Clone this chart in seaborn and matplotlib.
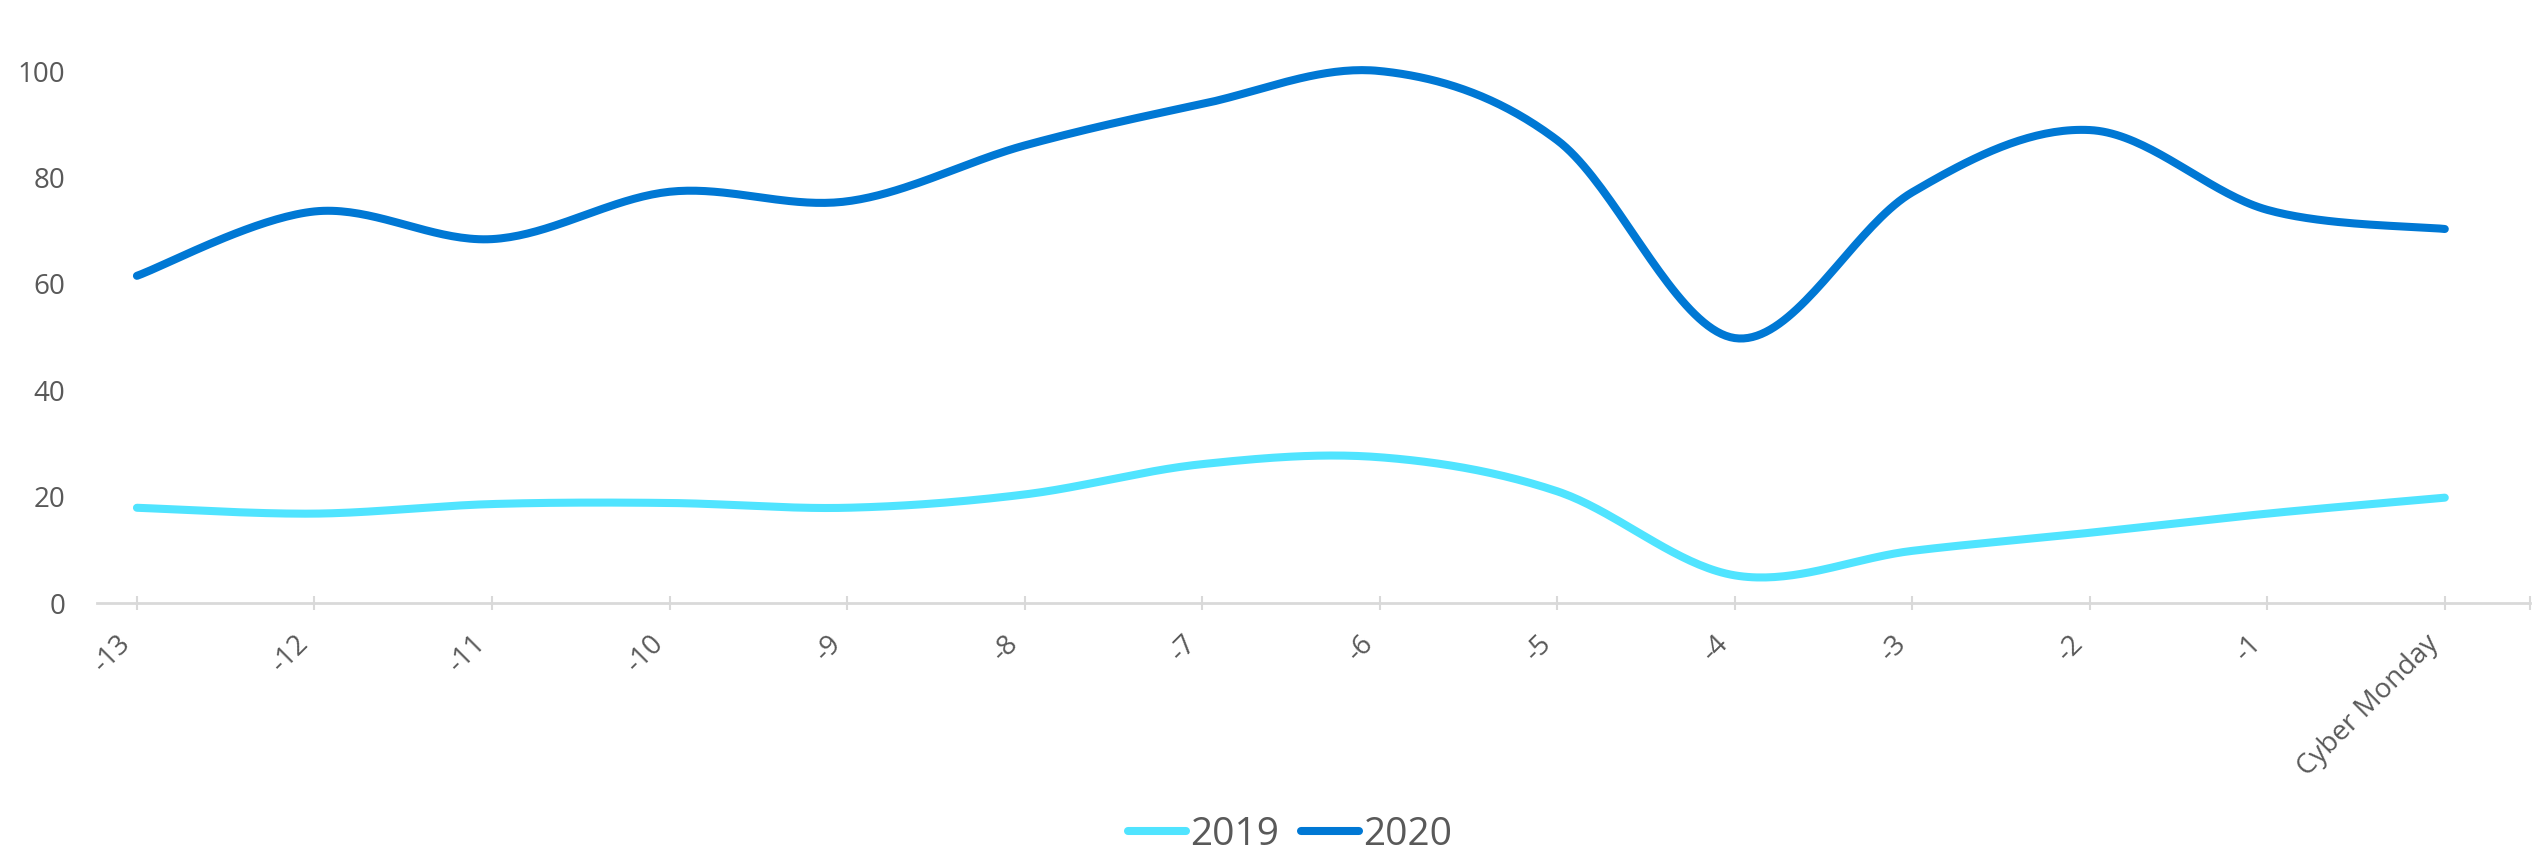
import numpy as np
import pandas as pd
import matplotlib
matplotlib.use("Agg")
import matplotlib.pyplot as plt
import seaborn as sns
from matplotlib.lines import Line2D

# Days leading up to Cyber Monday
days = ["-13", "-12", "-11", "-10", "-9", "-8", "-7", "-6", "-5", "-4", "-3", "-2", "-1", "Cyber Monday"]
values_2019 = [17.9, 16.8, 18.6, 18.8, 17.9, 20.4, 26.1, 27.4, 21.0, 5.2, 9.8, 13.2, 16.8, 19.8]
values_2020 = [61.5, 73.6, 68.4, 77.3, 75.5, 86.0, 93.8, 100.0, 87.0, 49.8, 77.2, 88.9, 73.9, 70.3]
series_names = ["2019", "2020"]
series_colors = {"2019": "#50E4FF", "2020": "#0078D4"}


def smooth_curve(xs, ys, steps=40):
    """Bezier smoothing with control points from neighbouring points (Catmull-Rom style)."""
    pts = np.column_stack([xs, ys]).astype(float)
    n = len(pts)
    out = []
    for i in range(n - 1):
        p0 = pts[max(i - 1, 0)]
        p1 = pts[i]
        p2 = pts[i + 1]
        p3 = pts[min(i + 2, n - 1)]
        c1 = p1 + (p2 - p0) / 6.0
        c2 = p2 - (p3 - p1) / 6.0
        t = np.linspace(0, 1, steps, endpoint=(i == n - 2))[:, None]
        seg = ((1 - t) ** 3) * p1 + 3 * ((1 - t) ** 2) * t * c1 + 3 * (1 - t) * t ** 2 * c2 + t ** 3 * p2
        out.append(seg)
    return np.vstack(out)


frames = []
x_idx = np.arange(len(days))
for name, vals in zip(series_names, [values_2019, values_2020]):
    curve = smooth_curve(x_idx, vals)
    frames.append(pd.DataFrame({"x": curve[:, 0], "y": curve[:, 1], "year": name}))
df = pd.concat(frames, ignore_index=True)

sns.set_theme(style="white")
plt.rcParams["font.family"] = ["Open Sans", "DejaVu Sans"]

fig = plt.figure(figsize=(25.34, 8.58), dpi=100)
ax = fig.add_axes([97 / 2534, 1 - 603 / 858, (2530 - 97) / 2534, (603 - 71) / 858])

sns.lineplot(data=df, x="x", y="y", hue="year", palette=series_colors, sort=False,
             estimator=None, linewidth=5.8, ax=ax, legend=False)
for line in ax.get_lines():
    line.set_solid_capstyle("round")
    line.set_clip_on(False)

ax.set_xlabel("")
ax.set_ylabel("")

text_color = "#595959"
ax.set_yticks([0, 20, 40, 60, 80, 100])
ax.set_yticklabels(["0", "20", "40", "60", "80", "100"], fontsize=20, color=text_color)
ax.tick_params(axis="y", length=0, pad=23)

x_min, x_max = -0.225, 13.48
ax.set_xticks(x_idx)
ax.set_xticklabels(days, rotation=45, ha="right", fontsize=20, color=text_color)
# extra tick mark at the right end of the axis
ax.set_xticks([x_max], minor=True)
ax.tick_params(axis="x", which="both", direction="inout", length=10, width=1.5,
               color="#D9D9D9", pad=14, bottom=True)

for side in ["top", "right", "left"]:
    ax.spines[side].set_visible(False)
ax.spines["bottom"].set_color("#D9D9D9")
ax.spines["bottom"].set_linewidth(2)
ax.grid(False)

ax.set_xlim(x_min, x_max)
ax.set_ylim(0, 100)

handles = [Line2D([0], [0], color=series_colors[n], lw=5.8, solid_capstyle="round") for n in series_names]
leg = fig.legend(handles, series_names, loc="center", bbox_to_anchor=(1290 / 2534, 1 - 835 / 858),
                 ncol=2, frameon=False, handlelength=1.5, handletextpad=0.1, columnspacing=0.55,
                 prop={"family": ["Liberation Sans Narrow", "Open Sans", "DejaVu Sans"], "size": 28})
for t in leg.get_texts():
    t.set_color(text_color)

fig.savefig("out.png", dpi=100, facecolor="white")
